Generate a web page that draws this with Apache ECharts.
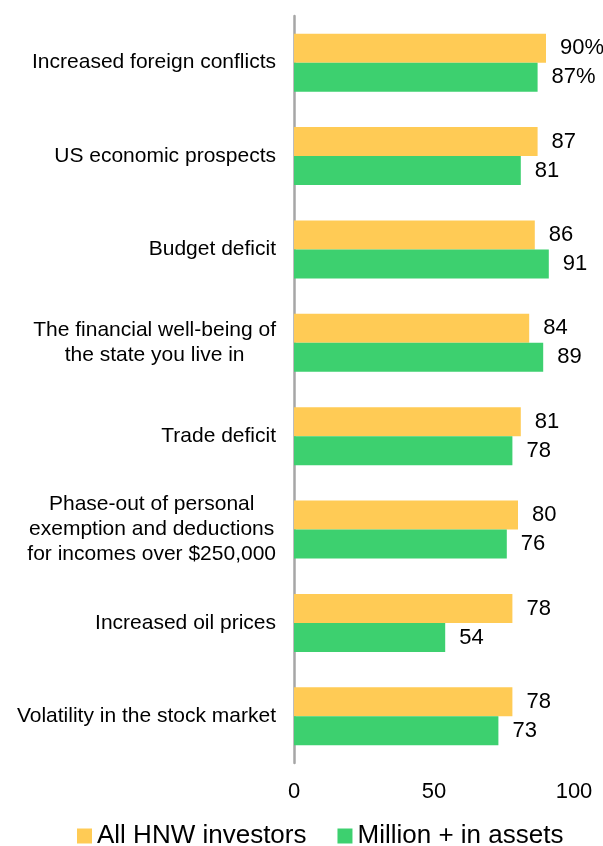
<!DOCTYPE html>
<html>
<head>
<meta charset="utf-8">
<script src="https://cdn.jsdelivr.net/npm/echarts@6/dist/echarts.min.js"></script>
<style>
  html, body { margin: 0; padding: 0; background: #ffffff; }
  #chart { width: 603px; height: 846px; }
</style>
</head>
<body>
<div id="chart"></div>
<script>
// Concerns ranked by share of respondents, two investor groups
const categories = [
  'Increased foreign conflicts',
  'US economic prospects',
  'Budget deficit',
  'The financial well-being of\nthe state you live in',
  'Trade deficit',
  'Phase-out of personal\nexemption and deductions\nfor incomes over $250,000',
  'Increased oil prices',
  'Volatility in the stock market'
];
const seriesNames = ['All HNW investors', 'Million + in assets'];
const allHnw = [90, 87, 86, 84, 81, 80, 78, 78];
const millionPlus = [87, 81, 91, 89, 78, 76, 54, 73];
const xTicks = [0, 50, 100];

const YELLOW = '#FFCB55';
const GREEN = '#3DD06F';
const FONT = '"Liberation Sans", Arial, sans-serif';

// First row carries the percent sign, the rest show plain numbers
function valueLabel(p) {
  return p.dataIndex === 0 ? p.value + '%' : String(p.value);
}

const chart = echarts.init(document.getElementById('chart'), null, { renderer: 'canvas' });

chart.setOption({
  animation: false,
  textStyle: { fontFamily: FONT },
  grid: { left: 294, right: 29, top: 16, bottom: 83, containLabel: false },
  legend: {
    data: seriesNames,
    left: 77,
    top: 823,
    padding: 0,
    itemWidth: 15,
    itemHeight: 15,
    itemGap: 31,
    icon: 'rect',
    textStyle: { fontSize: 26, color: '#000', fontFamily: FONT }
  },
  xAxis: {
    type: 'value',
    min: xTicks[0],
    max: xTicks[xTicks.length - 1],
    interval: xTicks[1] - xTicks[0],
    axisLine: { show: false },
    axisTick: { show: false },
    splitLine: { show: false },
    axisLabel: { fontSize: 22, color: '#000', margin: 18, fontFamily: FONT }
  },
  yAxis: {
    type: 'category',
    data: categories,
    inverse: true,
    axisLine: { show: true, lineStyle: { color: '#A6A6A6', width: 2.5 } },
    axisTick: { show: false },
    axisLabel: {
      margin: 18,
      color: '#000',
      fontFamily: FONT,
      formatter: function (v) {
        return v.split('\n').map(function (s) { return '{c|' + s + '}'; }).join('\n');
      },
      rich: {
        c: { align: 'center', fontSize: 21, lineHeight: 25, color: '#000', fontFamily: FONT }
      }
    }
  },
  series: [
    {
      name: seriesNames[0],
      type: 'bar',
      data: allHnw,
      barWidth: 29,
      barGap: '0%',
      itemStyle: { color: YELLOW },
      label: {
        show: true, position: 'right', distance: 14,
        fontSize: 22, color: '#000', fontFamily: FONT,
        formatter: valueLabel
      }
    },
    {
      name: seriesNames[1],
      type: 'bar',
      data: millionPlus,
      barWidth: 29,
      barGap: '0%',
      itemStyle: { color: GREEN },
      label: {
        show: true, position: 'right', distance: 14,
        fontSize: 22, color: '#000', fontFamily: FONT,
        formatter: valueLabel
      }
    }
  ]
});
</script>
</body>
</html>
